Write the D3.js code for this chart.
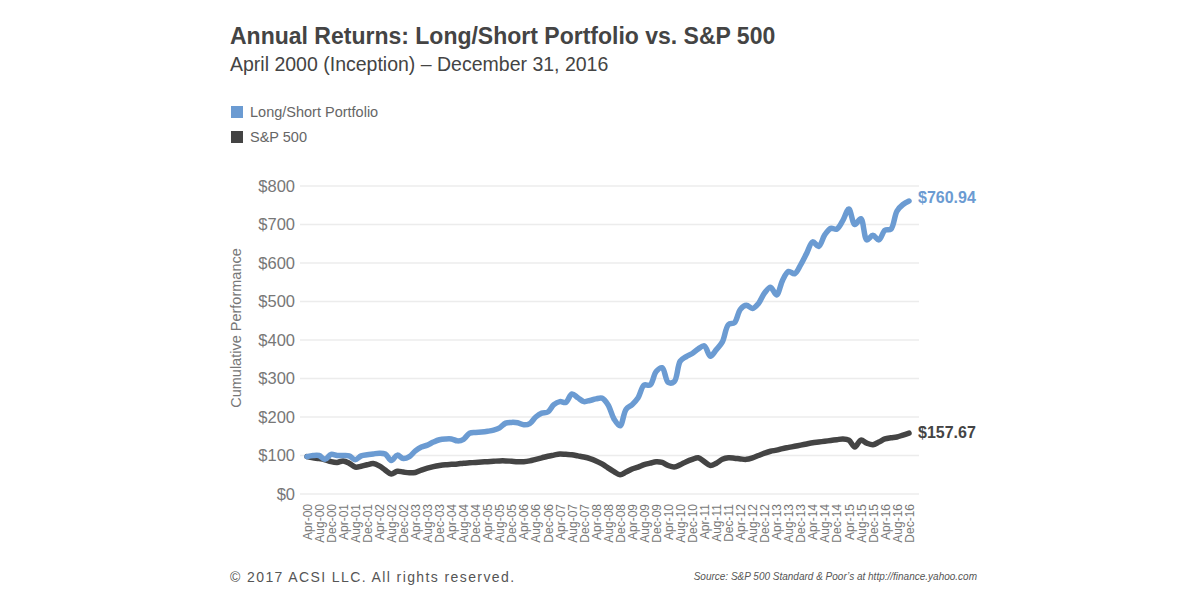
<!DOCTYPE html>
<html>
<head>
<meta charset="utf-8">
<script src="https://cdn.jsdelivr.net/npm/d3@7"></script>
<style>
  body { margin: 0; background: #fff; }
  svg { font-family: "Liberation Sans", Arial, sans-serif; }
</style>
</head>
<body>
<svg id="chart" width="1200" height="600"></svg>
<script>
// bimonthly points, Apr 2000 .. Dec 2016
const months = [];
for (let d = new Date(2000, 3, 1); d <= new Date(2016, 11, 1); d = new Date(d.getFullYear(), d.getMonth() + 2, 1)) {
    months.push(d);
}

const longShort = [
    97, 100, 100, 90, 103, 100, 100, 99, 89, 99,
    102, 104, 106, 104, 87, 101, 92, 97, 112, 122,
    127, 135, 141, 143, 143, 138, 142, 158, 160, 161,
    163, 166, 172, 184, 186, 185, 180, 183, 200, 210,
    213, 232, 240, 238, 260, 250, 240, 243, 247, 249,
    232, 195, 177, 220, 232, 250, 283, 283, 318, 328,
    290, 292, 345, 357, 365, 377, 385, 358, 375, 395,
    440, 445, 480, 490, 482, 495, 522, 537, 517, 555,
    578, 572, 595, 625, 655, 643, 673, 690, 688, 710,
    740, 700, 715, 660, 672, 660, 685, 688, 735, 752,
    761
];

const sp500 = [
    97, 94, 92, 89, 84, 82, 86, 80, 70, 72,
    76, 79, 73, 62, 52, 59, 57, 55, 56, 62,
    67, 71, 74, 76, 77, 78, 80, 81, 82, 83,
    84, 85, 86, 86, 85, 84, 84, 86, 90, 94,
    98, 101, 104, 103, 102, 99, 96, 92, 86, 78,
    68, 58, 50, 57, 65, 70, 76, 80, 84, 82,
    74, 70, 76, 84, 90, 94, 84, 74, 80, 90,
    94, 93, 91, 90, 94, 100, 106, 111, 114, 118,
    121, 124, 127, 130, 133, 135, 137, 139, 141, 143,
    140, 122, 140, 132, 128, 135, 143, 146, 148, 153,
    158
];

const yTicks = [0, 100, 200, 300, 400, 500, 600, 700, 800];
const endLabels = ["$760.94", "$157.67"];
const seriesNames = ["Long/Short Portfolio", "S&P 500"];
const colors = ["#6b9bd2", "#444444"];

const svg = d3.select("#chart");

// titles
svg.append("text").attr("x", 230).attr("y", 44)
    .attr("font-size", 23).attr("font-weight", "bold").attr("fill", "#444")
    .text("Annual Returns: Long/Short Portfolio vs. S&P 500");
svg.append("text").attr("x", 230).attr("y", 71)
    .attr("font-size", 19.5).attr("fill", "#444")
    .text("April 2000 (Inception) \u2013 December 31, 2016");

// legend
seriesNames.forEach((name, i) => {
    svg.append("rect").attr("x", 231).attr("y", 106 + i * 25)
        .attr("width", 12).attr("height", 12).attr("fill", colors[i]);
    svg.append("text").attr("x", 250).attr("y", 117 + i * 25)
        .attr("font-size", 14.5).attr("fill", "#666").text(name);
});

const x = d3.scalePoint().domain(months).range([307, 909]);
const y = d3.scaleLinear().domain([0, 800]).range([494, 186]);

// gridlines
svg.append("g").selectAll("line").data(yTicks).enter().append("line")
    .attr("x1", 300).attr("x2", 919)
    .attr("y1", d => y(d)).attr("y2", d => y(d))
    .attr("stroke", "#ececec").attr("stroke-width", 1.5);

// y axis labels
const yAxis = svg.append("g").attr("transform", "translate(300,0)")
    .call(d3.axisLeft(y).tickValues(yTicks).tickSize(0).tickPadding(5).tickFormat(d => "$" + d));
yAxis.select(".domain").remove();
yAxis.selectAll("text").attr("font-size", 16.5).attr("fill", "#777")
    .attr("font-family", "Liberation Sans, Arial, sans-serif");

svg.append("text")
    .attr("transform", "translate(241,328) rotate(-90)")
    .attr("text-anchor", "middle").attr("font-size", 14.5).attr("fill", "#777")
    .text("Cumulative Performance");

// x axis labels, every 4 months
const fmt = d3.timeFormat("%b-%y");
const xAxis = svg.append("g").attr("transform", "translate(0,500)")
    .call(d3.axisBottom(x).tickValues(months.filter((d, i) => i % 2 === 0)).tickSize(0).tickFormat(fmt));
xAxis.select(".domain").remove();
xAxis.selectAll("text")
    .attr("font-size", 12).attr("fill", "#777")
    .attr("font-family", "Liberation Sans, Arial, sans-serif")
    .attr("transform", "rotate(-90)")
    .attr("text-anchor", "end")
    .attr("x", -4).attr("y", 0).attr("dy", "0.35em");

// lines
const line = d3.line()
    .x((d, i) => x(months[i]))
    .y(d => y(d))
    .curve(d3.curveCatmullRom.alpha(0.5));

[sp500, longShort].forEach((s, k) => {
    svg.append("path").datum(s)
        .attr("d", line)
        .attr("fill", "none")
        .attr("stroke", k === 0 ? colors[1] : colors[0])
        .attr("stroke-width", 5.5)
        .attr("stroke-linejoin", "round")
        .attr("stroke-linecap", "round");
});

// end labels
[longShort, sp500].forEach((s, i) => {
    svg.append("text")
        .attr("x", 918).attr("y", y(s[s.length - 1]) + 5 + (i === 0 ? -3 : 0))
        .attr("font-size", 16).attr("font-weight", "bold").attr("fill", colors[i])
        .text(endLabels[i]);
});

// footer
svg.append("text").attr("x", 230).attr("y", 582)
    .attr("font-size", 14).attr("fill", "#555").attr("letter-spacing", 1.4)
    .text("\u00a9 2017 ACSI LLC. All rights reserved.");
svg.append("text").attr("x", 977).attr("y", 580)
    .attr("text-anchor", "end").attr("font-size", 10).attr("font-style", "italic").attr("fill", "#555")
    .text("Source: S&P 500 Standard & Poor\u2019s at http://finance.yahoo.com");
</script>
</body>
</html>
